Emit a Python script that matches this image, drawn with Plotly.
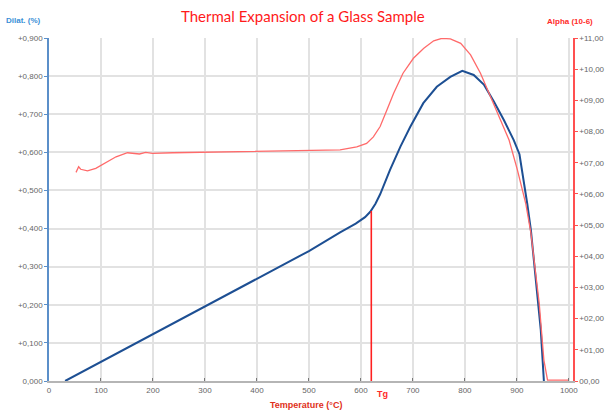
import plotly.graph_objects as go

# ---- data ----
dilat_temp = [31, 100, 200, 300, 400, 500, 560, 590, 608, 618, 628, 637, 656, 676, 695, 720, 746,
              772, 795, 817, 837, 856, 875, 894, 905, 913, 920, 927, 936, 946, 952]
dilat_val = [0.000, 0.050, 0.123, 0.196, 0.268, 0.341, 0.390, 0.413, 0.430, 0.444, 0.465, 0.490,
             0.554, 0.615, 0.667, 0.729, 0.772, 0.798, 0.814, 0.803, 0.777, 0.733, 0.685, 0.632,
             0.595, 0.530, 0.465, 0.396, 0.265, 0.134, 0.000]

alpha_temp = [52, 57, 61, 74, 90, 109, 129, 151, 174, 186, 199, 238, 367, 500, 560, 592, 611, 624,
              637, 650, 663, 681, 701, 721, 740, 756, 772, 792, 811, 830, 849, 869, 885, 901, 917,
              927, 943, 952, 959, 1000]
alpha_val = [6.69, 6.87, 6.79, 6.74, 6.82, 7.00, 7.19, 7.32, 7.28, 7.33, 7.30, 7.32, 7.35, 7.38,
             7.41, 7.51, 7.62, 7.83, 8.16, 8.69, 9.23, 9.87, 10.35, 10.67, 10.91, 10.99, 10.97,
             10.83, 10.46, 9.87, 9.12, 8.37, 7.73, 6.77, 5.70, 4.75, 2.49, 0.67, 0.03, 0.03]

tg_temp = 620
tg_dilat = 0.446

x_ticks = [0, 100, 200, 300, 400, 500, 600, 700, 800, 900, 1000]
y1_ticks = [0.0, 0.1, 0.2, 0.3, 0.4, 0.5, 0.6, 0.7, 0.8, 0.9]
y1_labels = ["0,000", "+0,100", "+0,200", "+0,300", "+0,400", "+0,500", "+0,600", "+0,700",
             "+0,800", "+0,900"]
y2_ticks = list(range(0, 12))
y2_labels = ["00,00", "+01,00", "+02,00", "+03,00", "+04,00", "+05,00", "+06,00", "+07,00",
             "+08,00", "+09,00", "+10,00", "+11,00"]

BLUE = "#1d4f93"
RED = "#ff6a6a"
TITLE_RED = "#ff1a1a"
LABEL_BLUE = "#3a8fd6"
GRID = "#e2e2e2"
TICKFONT = dict(family="Liberation Sans", size=8, color="#666666")

fig = go.Figure()

fig.add_trace(go.Scatter(x=alpha_temp, y=alpha_val, mode="lines", yaxis="y2",
                         line=dict(color=RED, width=1.3), showlegend=False, hoverinfo="skip"))
fig.add_trace(go.Scatter(x=dilat_temp, y=dilat_val, mode="lines",
                         line=dict(color=BLUE, width=2), showlegend=False, hoverinfo="skip"))
fig.add_trace(go.Scatter(x=[tg_temp, tg_temp], y=[0, tg_dilat], mode="lines",
                         line=dict(color="#ff2020", width=1.6), showlegend=False, hoverinfo="skip"))

fig.update_layout(
    width=613, height=411,
    margin=dict(l=49, r=40, t=38, b=30, autoexpand=False),
    paper_bgcolor="white", plot_bgcolor="white",
    xaxis=dict(range=[0, 1008], tickvals=x_ticks, ticktext=[str(v) for v in x_ticks],
               showgrid=True, gridcolor=GRID, gridwidth=1.5, zeroline=False, automargin=False,
               showline=True, linecolor="#b5b5b5", linewidth=2,
               ticks="inside", ticklen=3, tickcolor="#777777", tickfont=TICKFONT),
    yaxis=dict(range=[0, 0.9], tickvals=y1_ticks, ticktext=y1_labels, automargin=False,
               showgrid=True, gridcolor=GRID, gridwidth=1.5, zeroline=False,
               showline=True, linecolor="#5b8fc9", linewidth=1.5,
               ticks="outside", ticklen=3, tickcolor="#5b8fc9", tickfont=TICKFONT),
    yaxis2=dict(range=[0, 11], tickvals=y2_ticks, ticktext=y2_labels, overlaying="y",
                side="right", showgrid=False, zeroline=False, automargin=False,
                showline=True, linecolor="#ff5050", linewidth=1.5,
                ticks="outside", ticklen=3, tickcolor="#ff5050", tickfont=TICKFONT),
    annotations=[
        dict(text="Thermal Expansion of a Glass Sample", xref="paper", yref="paper",
             x=0.485, y=1, yshift=22, showarrow=False, xanchor="center", yanchor="middle",
             font=dict(family="Lato", size=15, color=TITLE_RED)),
        dict(text="<b>Dilat. (%)</b>", xref="paper", yref="paper", x=0, xshift=-45,
             y=1, yshift=18, showarrow=False, xanchor="left", yanchor="middle",
             font=dict(family="Liberation Sans", size=8, color=LABEL_BLUE)),
        dict(text="<b>Alpha (10-6)</b>", xref="paper", yref="paper", x=1, xshift=-28,
             y=1, yshift=17, showarrow=False, xanchor="left", yanchor="middle",
             font=dict(family="Liberation Sans", size=8, color="#ff2a2a")),
        dict(text="<b>Temperature (°C)</b>", xref="paper", yref="paper", x=0.49,
             y=0, yshift=-24, showarrow=False, xanchor="center", yanchor="middle",
             font=dict(family="Liberation Sans", size=9, color="#e03020")),
        dict(text="<b>Tg</b>", xref="x", yref="paper", x=tg_temp, xshift=4,
             y=0, yshift=-13, showarrow=False, xanchor="left", yanchor="middle",
             font=dict(family="Liberation Sans", size=9, color="#ff2a2a")),
    ],
)

fig.write_html("out.html", config={"displayModeBar": False},
               post_script="document.body.style.margin='0';document.body.style.overflow='hidden';")
